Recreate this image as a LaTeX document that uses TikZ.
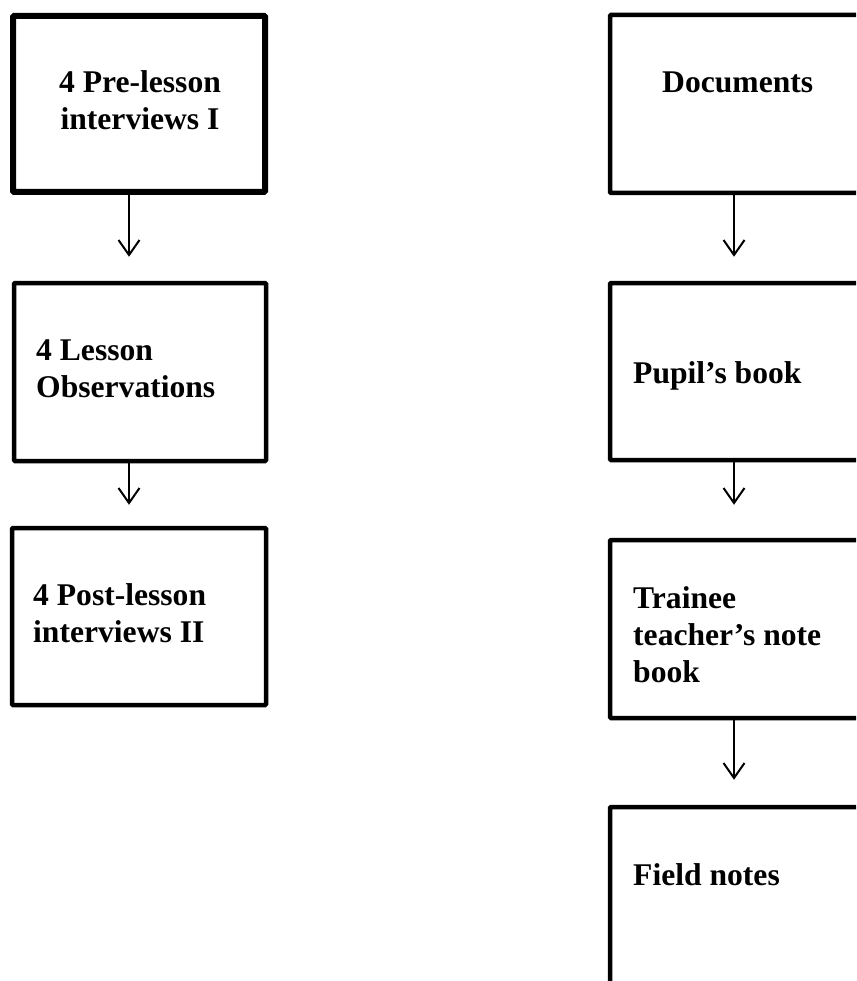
\documentclass[tikz,border=0pt]{standalone}
\usepackage{fontspec}
\setmainfont{Liberation Serif}
\usetikzlibrary{arrows.meta}

\begin{document}
\begin{tikzpicture}[x=1pt, y=-1pt,
  box/.style={draw, line width=4.5pt, rectangle, rounded corners=1pt, inner sep=0pt},
  thickbox/.style={box, line width=6pt},
  txt/.style={font=\fontsize{31.6}{37}\selectfont\bfseries, inner sep=0pt, align=left},
  flow/.style={-{Straight Barb[length=15pt,width=21pt,line width=2pt]}, line width=2pt}]
  \useasboundingbox (0,0) rectangle (856,981);
  \clip (0,0) rectangle (856,981);
  % left column
  \node[thickbox, minimum width=252pt, minimum height=176pt] (pre)  at (139,104) {};
  \node[box, minimum width=252pt, minimum height=178pt]      (obs)  at (140,372) {};
  \node[box, minimum width=254pt, minimum height=177pt]      (post) at (139,616.5) {};
  \node[txt, align=center, anchor=base] (pretxt)  at (140,130) {4 Pre-lesson\\interviews I};
  \node[txt, anchor=base west]          (obstxt)  at (36,397)  {4 Lesson\\Observations};
  \node[txt, anchor=base west]          (posttxt) at (33,642)  {4 Post-lesson\\interviews II};
  \draw[flow, shorten >=24pt] ([xshift=-10pt]pre.south) -- ([xshift=-11pt]obs.north);
  \draw[flow, shorten >=21pt] ([xshift=-11pt]obs.south) -- ([xshift=-10pt]post.north);
  % right column
  \node[box, minimum width=252pt, minimum height=178pt] (docs)    at (736,104) {};
  \node[box, minimum width=252pt, minimum height=177pt] (pupil)   at (736,371.5) {};
  \node[box, minimum width=252pt, minimum height=178pt] (trainee) at (736,629) {};
  \node[box, minimum width=252pt, minimum height=178pt] (field)   at (736,896) {};
  \node[txt, anchor=base west] (docstxt)    at (662,93)  {Documents};
  \node[txt, anchor=base west] (pupiltxt)   at (633,383) {Pupil’s book};
  \node[txt, anchor=base west] (traineetxt) at (633,682) {Trainee\\teacher’s note\\book};
  \node[txt, anchor=base west] (fieldtxt)   at (633,885) {Field notes};
  \draw[flow, shorten >=24pt] ([xshift=-2pt]docs.south) -- ([xshift=-2pt]pupil.north);
  \draw[flow, shorten >=33pt] ([xshift=-2pt]pupil.south) -- ([xshift=-2pt]trainee.north);
  \draw[flow, shorten >=25pt] ([xshift=-2pt]trainee.south) -- ([xshift=-2pt]field.north);
\end{tikzpicture}
\end{document}
